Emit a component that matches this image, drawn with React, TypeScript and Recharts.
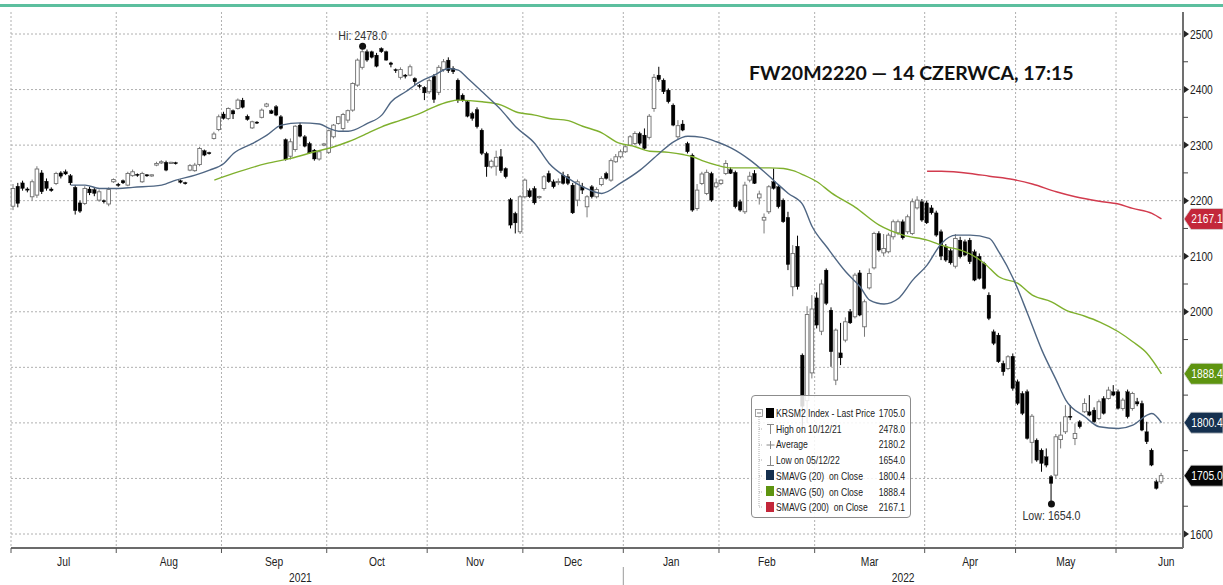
import React from 'react';
import { ComposedChart, Bar, Line, XAxis, YAxis, CartesianGrid, ReferenceDot } from 'recharts';

// [open, high, low, close] per trading day
type Ohlc = [number, number, number, number];

const JUL_21: Ohlc[] = [
  [2190, 2230, 2183, 2222], [2226, 2232, 2188, 2195], [2232, 2236, 2218, 2222], [2221, 2224, 2215, 2219],
  [2207, 2238, 2200, 2234], [2210, 2262, 2205, 2257], [2250, 2255, 2212, 2216], [2235, 2240, 2218, 2222],
  [2221, 2224, 2216, 2218], [2231, 2252, 2228, 2249], [2250, 2253, 2240, 2244], [2252, 2256, 2246, 2248],
  [2245, 2248, 2228, 2232], [2224, 2228, 2175, 2182], [2196, 2200, 2178, 2181], [2195, 2226, 2192, 2222],
  [2221, 2225, 2210, 2214], [2220, 2224, 2208, 2213], [2201, 2220, 2198, 2216], [2200, 2202, 2195, 2198],
  [2194, 2224, 2190, 2220], [2234, 2240, 2232, 2238],
];
const AUG_21: Ohlc[] = [
  [2229, 2232, 2225, 2228], [2236, 2238, 2230, 2232], [2228, 2252, 2226, 2249], [2245, 2256, 2243, 2252],
  [2247, 2249, 2243, 2246], [2234, 2252, 2232, 2249], [2246, 2248, 2243, 2245], [2245, 2247, 2243, 2246],
  [2264, 2270, 2262, 2267], [2268, 2273, 2266, 2270], [2269, 2272, 2253, 2255], [2268, 2270, 2266, 2268],
  [2268, 2270, 2265, 2267], [2236, 2238, 2231, 2233], [2232, 2234, 2229, 2231], [2255, 2266, 2253, 2263],
  [2254, 2268, 2252, 2264], [2265, 2297, 2262, 2294], [2290, 2292, 2280, 2282], [2286, 2288, 2283, 2285],
  [2312, 2324, 2310, 2320], [2328, 2355, 2325, 2351],
];
const SEP_21: Ohlc[] = [
  [2356, 2360, 2346, 2348], [2348, 2368, 2345, 2366], [2362, 2364, 2347, 2356], [2366, 2384, 2364, 2381],
  [2381, 2385, 2366, 2368], [2352, 2355, 2344, 2346], [2331, 2344, 2329, 2342], [2341, 2343, 2338, 2340],
  [2350, 2366, 2348, 2363], [2370, 2376, 2368, 2374], [2362, 2364, 2356, 2357], [2369, 2372, 2352, 2354],
  [2351, 2354, 2328, 2330], [2310, 2312, 2272, 2274], [2280, 2312, 2274, 2306], [2292, 2336, 2288, 2334],
  [2336, 2340, 2314, 2316], [2315, 2318, 2296, 2298], [2303, 2306, 2284, 2286], [2291, 2293, 2272, 2275],
  [2275, 2290, 2272, 2288], [2300, 2304, 2298, 2302],
];
const OCT_21: Ohlc[] = [
  [2287, 2328, 2284, 2326], [2315, 2338, 2312, 2336], [2339, 2352, 2337, 2351], [2330, 2358, 2326, 2355],
  [2345, 2364, 2340, 2362], [2363, 2413, 2360, 2411], [2408, 2456, 2405, 2453], [2440, 2478, 2436, 2468],
  [2468, 2472, 2450, 2453], [2468, 2470, 2456, 2458], [2462, 2466, 2440, 2442], [2474, 2476, 2466, 2468],
  [2468, 2470, 2452, 2453], [2448, 2450, 2440, 2445], [2436, 2438, 2430, 2434], [2422, 2440, 2418, 2436],
  [2426, 2428, 2420, 2424], [2426, 2445, 2424, 2441], [2420, 2422, 2408, 2414], [2407, 2410, 2402, 2406],
  [2404, 2406, 2381, 2394],
];
const NOV_21: Ohlc[] = [
  [2396, 2420, 2392, 2416], [2424, 2428, 2376, 2382], [2395, 2444, 2390, 2440], [2436, 2455, 2432, 2450],
  [2453, 2458, 2430, 2434], [2438, 2442, 2428, 2432], [2417, 2420, 2376, 2381], [2390, 2393, 2378, 2381],
  [2378, 2380, 2350, 2352], [2357, 2360, 2344, 2348], [2364, 2368, 2330, 2333], [2327, 2330, 2282, 2285],
  [2285, 2288, 2243, 2261], [2261, 2274, 2258, 2271], [2262, 2290, 2245, 2278], [2279, 2293, 2250, 2254],
  [2258, 2260, 2240, 2243], [2202, 2205, 2150, 2156], [2177, 2180, 2141, 2160], [2144, 2210, 2140, 2207],
];
const DEC_21: Ohlc[] = [
  [2207, 2240, 2204, 2237], [2218, 2222, 2205, 2207], [2222, 2226, 2193, 2196], [2206, 2209, 2203, 2207],
  [2222, 2246, 2218, 2243], [2249, 2254, 2232, 2234], [2234, 2238, 2222, 2225], [2233, 2240, 2228, 2234],
  [2246, 2252, 2229, 2231], [2243, 2248, 2228, 2231], [2228, 2232, 2176, 2178], [2201, 2238, 2190, 2234],
  [2225, 2232, 2212, 2219], [2189, 2210, 2170, 2207], [2225, 2228, 2204, 2207], [2207, 2224, 2204, 2220],
  [2229, 2244, 2226, 2240], [2249, 2252, 2238, 2240], [2237, 2276, 2234, 2272], [2270, 2284, 2268, 2279],
  [2279, 2292, 2276, 2288],
];
const JAN_22: Ohlc[] = [
  [2288, 2300, 2286, 2297], [2300, 2318, 2298, 2315], [2303, 2325, 2300, 2321], [2321, 2324, 2300, 2303],
  [2318, 2330, 2292, 2294], [2314, 2356, 2310, 2352], [2366, 2428, 2360, 2422], [2426, 2441, 2414, 2418],
  [2417, 2420, 2392, 2396], [2399, 2402, 2375, 2378], [2372, 2375, 2334, 2336], [2315, 2345, 2309, 2335],
  [2338, 2345, 2325, 2327], [2303, 2306, 2285, 2288], [2282, 2285, 2180, 2183], [2186, 2230, 2182, 2219],
  [2231, 2252, 2228, 2248], [2213, 2256, 2210, 2251], [2249, 2252, 2198, 2201], [2225, 2240, 2222, 2232],
];
const FEB_22: Ohlc[] = [
  [2231, 2238, 2228, 2237], [2249, 2273, 2246, 2267], [2256, 2260, 2248, 2249], [2251, 2254, 2186, 2189],
  [2198, 2202, 2180, 2183], [2180, 2234, 2176, 2228], [2237, 2252, 2233, 2244], [2249, 2255, 2230, 2231],
  [2205, 2218, 2193, 2212], [2165, 2177, 2141, 2170], [2180, 2228, 2176, 2225], [2234, 2258, 2220, 2222],
  [2225, 2228, 2186, 2189], [2201, 2204, 2160, 2162], [2170, 2180, 2075, 2085], [2045, 2120, 2028, 2105],
  [2118, 2137, 2040, 2045], [1922, 1925, 1790, 1830], [1840, 2010, 1800, 1995], [1890, 2030, 1880, 2005],
];
const MAR_22: Ohlc[] = [
  [2025, 2035, 1970, 1976], [1965, 2058, 1958, 2050], [2075, 2078, 2012, 2015], [2003, 2008, 1901, 1928],
  [1877, 1970, 1868, 1967], [1926, 1980, 1904, 1917], [1949, 1990, 1945, 1982], [2000, 2005, 1978, 1980],
  [1991, 2070, 1988, 2066], [2070, 2075, 1992, 1994], [1973, 2022, 1955, 2018], [2043, 2078, 2040, 2069],
  [2079, 2144, 2076, 2141], [2141, 2145, 2108, 2111], [2106, 2140, 2100, 2114], [2108, 2142, 2105, 2138],
  [2135, 2166, 2130, 2162], [2142, 2166, 2138, 2162], [2162, 2166, 2130, 2133], [2144, 2175, 2140, 2171],
  [2141, 2204, 2138, 2198], [2187, 2208, 2184, 2201], [2198, 2203, 2162, 2165],
];
const APR_22: Ohlc[] = [
  [2196, 2200, 2158, 2160], [2187, 2192, 2175, 2178], [2178, 2182, 2135, 2138], [2144, 2148, 2093, 2100],
  [2117, 2122, 2090, 2093], [2110, 2114, 2085, 2088], [2082, 2140, 2078, 2132], [2129, 2135, 2096, 2099],
  [2126, 2130, 2100, 2102], [2129, 2133, 2086, 2090], [2108, 2112, 2055, 2057], [2100, 2105, 2058, 2060],
  [2087, 2090, 2040, 2042], [2030, 2035, 1985, 1988], [1964, 1968, 1940, 1943], [1958, 1962, 1908, 1910],
  [1907, 1912, 1885, 1892], [1898, 1922, 1895, 1919], [1920, 1925, 1858, 1862],
];
const MAY_22: Ohlc[] = [
  [1874, 1878, 1832, 1835], [1853, 1857, 1814, 1817], [1856, 1860, 1770, 1772], [1765, 1816, 1727, 1812],
  [1769, 1772, 1730, 1733], [1751, 1754, 1712, 1727], [1739, 1754, 1720, 1724], [1703, 1706, 1654, 1691],
  [1706, 1780, 1700, 1775], [1770, 1802, 1754, 1778], [1784, 1832, 1780, 1811], [1812, 1832, 1805, 1810],
  [1772, 1799, 1760, 1781], [1802, 1805, 1790, 1793], [1820, 1844, 1818, 1835], [1820, 1850, 1812, 1814],
  [1823, 1828, 1800, 1802], [1808, 1842, 1805, 1838], [1844, 1848, 1815, 1817], [1844, 1865, 1842, 1859],
  [1856, 1868, 1848, 1850],
];
const JUN_22: Ohlc[] = [
  [1856, 1860, 1824, 1826], [1826, 1845, 1822, 1841], [1856, 1860, 1808, 1811], [1826, 1856, 1822, 1853],
  [1838, 1845, 1830, 1834], [1835, 1840, 1785, 1787], [1784, 1802, 1762, 1766], [1751, 1754, 1722, 1724],
  [1694, 1698, 1680, 1682], [1694, 1710, 1690, 1705],
];

// moving averages: [trading-day index, value]
const SMA20: [number, number][] = [
  [12, 2228], [15, 2228], [18, 2222], [22, 2222], [25, 2224], [31, 2228], [34, 2237], [38, 2246], [41, 2255],
  [44, 2267], [46, 2285], [50, 2303], [53, 2318], [56, 2336], [60, 2340], [64, 2338], [66, 2330], [68, 2325],
  [70, 2325], [74, 2339], [77, 2354], [79, 2378], [82, 2396], [85, 2414], [88, 2426], [91, 2438], [93, 2435],
  [95, 2420], [98, 2396], [102, 2363], [105, 2333], [109, 2303], [112, 2267], [116, 2240], [119, 2225],
  [123, 2213], [127, 2232], [131, 2255], [135, 2285], [138, 2306], [141, 2316], [144, 2314], [147, 2306],
  [150, 2295], [154, 2273], [158, 2244], [160, 2228], [162, 2213], [165, 2193], [167, 2153], [170, 2117],
  [174, 2072], [177, 2045], [179, 2021], [182, 2014], [185, 2024], [188, 2057], [191, 2084], [194, 2123],
  [197, 2138], [200, 2138], [204, 2132], [206, 2108], [209, 2060], [212, 1997], [215, 1931], [218, 1877],
  [220, 1841], [224, 1811], [227, 1793], [231, 1790], [234, 1796], [237, 1814], [238, 1817], [240, 1800.4],
];
const SMA50: [number, number][] = [
  [42, 2237], [46, 2249], [53, 2267], [58, 2276], [63, 2288], [67, 2297], [70, 2306], [74, 2321], [77, 2333],
  [81, 2345], [85, 2357], [88, 2369], [91, 2378], [93, 2381], [98, 2378], [102, 2372], [105, 2360], [109, 2354],
  [112, 2348], [116, 2344], [119, 2334], [123, 2322], [126, 2306], [130, 2297], [133, 2289], [137, 2287],
  [140, 2283], [142, 2279], [144, 2272], [147, 2264], [150, 2259], [154, 2259], [158, 2259], [161, 2258],
  [163, 2254], [165, 2247], [168, 2234], [171, 2214], [176, 2188], [181, 2156], [186, 2138], [191, 2129],
  [195, 2117], [198, 2111], [200, 2104], [203, 2087], [206, 2063], [210, 2051], [213, 2030], [217, 2018],
  [220, 2003], [224, 1992], [227, 1982], [231, 1964], [234, 1946], [237, 1925], [240, 1888.4],
];
const SMA200: [number, number][] = [
  [191, 2253], [194, 2253], [200, 2249], [204, 2244], [209, 2238], [213, 2230], [218, 2216], [222, 2207],
  [227, 2199], [231, 2194], [234, 2186], [238, 2177], [240, 2167.1],
];

const MONTH_NAMES = ['Jul', 'Aug', 'Sep', 'Oct', 'Nov', 'Dec', 'Jan', 'Feb', 'Mar', 'Apr', 'May', 'Jun'];
const MONTH_STARTS = [-0.5, 21.5, 43.5, 65.5, 86.5, 106.5, 127.5, 147.5, 167.5, 190.5, 209.5, 230.5];
const MONTH_MIDS = [10.5, 32.5, 54.5, 76, 96.5, 117, 137.5, 157.5, 179, 200, 220, 241];
const YEAR_NAMES = ['2021', '2022'];
const YEAR_MIDS = [60, 186];
const YEAR_SPLIT = 127.5;

const PRICE_TICKS = [1600, 1700, 1800, 1900, 2000, 2100, 2200, 2300, 2400, 2500];
const MINOR_TICKS = [1650, 1750, 1850, 1950, 2050, 2150, 2250, 2350, 2450];
const FLAG_VALUES = [2167.1, 1888.4, 1800.4, 1705.0];
const FLAG_COLORS = ['#c3273a', '#5e9410', '#15304f', '#050505'];

const HIGH = { i: 73, v: 2478.0 };
const LOW = { i: 217, v: 1654.0 };

const LEGEND_LABELS = ['KRSM2 Index - Last Price', 'High on 10/12/21', 'Average', 'Low on 05/12/22',
  'SMAVG (20)  on Close', 'SMAVG (50)  on Close', 'SMAVG (200)  on Close'];
const LEGEND_VALUES = ['1705.0', '2478.0', '2180.2', '1654.0', '1800.4', '1888.4', '2167.1'];

const SLOTS = 245;
const CANDLES: Ohlc[] = [...JUL_21, ...AUG_21, ...SEP_21, ...OCT_21, ...NOV_21, ...DEC_21,
  ...JAN_22, ...FEB_22, ...MAR_22, ...APR_22, ...MAY_22, ...JUN_22];

const m20 = new Map(SMA20);
const m50 = new Map(SMA50);
const m200 = new Map(SMA200);
const DATA = Array.from({ length: SLOTS }, (_, i) => {
  const k = CANDLES[i];
  return {
    i,
    o: k ? k[0] : null, h: k ? k[1] : null, l: k ? k[2] : null, c: k ? k[3] : null,
    s20: m20.get(i) ?? null, s50: m50.get(i) ?? null, s200: m200.get(i) ?? null,
  };
});

const BOTTOM_TICKS = [...MONTH_STARTS, ...MONTH_MIDS, ...YEAR_MIDS].sort((a, b) => a - b);

const SANS = "'Liberation Sans', Arial, sans-serif";
const X_DOMAIN = [-0.5, SLOTS - 0.5];
const Y_DOMAIN = [1574.8, 2539.6];

// condensed text: Liberation Sans squeezed horizontally, like the terminal's narrow font
const NText = ({ x, y, anchor = 'start', size = 12.5, fill = '#222', dy, children }: any) => (
  <text transform={`translate(${x},${y}) scale(0.82,1)`} x={0} y={0} dy={dy} textAnchor={anchor}
    fontSize={size} fontFamily={SANS} fill={fill}>
    {children}
  </text>
);

const Candle = (props: any) => {
  const { x, y, width, height, payload } = props;
  if (payload == null || payload.h == null || height == null) return null;
  const top = Math.min(y, y + height);
  const bot = Math.max(y, y + height);
  const py = (v: number) => top + ((payload.h - v) / (payload.h - payload.l)) * (bot - top);
  const cx = x + width / 2;
  const up = payload.c >= payload.o;
  let bTop = py(Math.max(payload.o, payload.c));
  let bBot = py(Math.min(payload.o, payload.c));
  if (bBot - bTop < 1.2) {
    const m = (bTop + bBot) / 2;
    bTop = m - 0.6;
    bBot = m + 0.6;
  }
  const bw = 3.6;
  return (
    <g>
      <line x1={cx} x2={cx} y1={top} y2={bot} stroke={up ? '#7a7a7a' : '#000'} strokeWidth={1} />
      <rect x={cx - bw / 2} y={bTop} width={bw} height={bBot - bTop}
        fill={up ? '#fff' : '#000'} stroke={up ? '#6e6e6e' : '#000'} strokeWidth={up ? 0.9 : 0.3} />
    </g>
  );
};

const PriceTick = (props: any) => {
  const { x, y, payload } = props;
  const v = payload.value;
  const fi = FLAG_VALUES.indexOf(v);
  if (fi >= 0) {
    return (
      <g>
        <path d={`M${x + 1},${y} L${x + 8},${y - 10.5} L${x + 40},${y - 10.5} L${x + 40},${y + 10.5} L${x + 8},${y + 10.5} Z`}
          fill={FLAG_COLORS[fi]} stroke="#d8d8d8" strokeWidth={0.8} />
        <NText x={x + 24} y={y} dy="0.36em" anchor="middle" size={12.5} fill="#fff">{v.toFixed(1)}</NText>
      </g>
    );
  }
  if (v % 100 === 0) {
    // labels hidden behind a flag are not drawn
    if (FLAG_VALUES.some((f) => Math.abs(f - v) < 20)) return <g />;
    return (
      <g>
        <path d={`M${x + 1},${y - 3.5} L${x + 6},${y} L${x + 1},${y + 3.5} Z`} fill="#222" />
        <NText x={x + 7} y={y} dy="0.36em" size={12.5}>{v}</NText>
      </g>
    );
  }
  return <line x1={x} x2={x + 5} y1={y} y2={y} stroke="#444" strokeWidth={1} />;
};

const BottomTick = (props: any) => {
  const { x, y, payload } = props;
  const v = payload.value;
  if (MONTH_STARTS.includes(v)) {
    return (
      <g>
        <line x1={x} x2={x} y1={y} y2={y + 5} stroke="#555" strokeWidth={1} />
        {v === YEAR_SPLIT && <line x1={x} x2={x} y1={y + 19} y2={y + 37} stroke="#9a9a9a" strokeWidth={1} />}
      </g>
    );
  }
  const mi = MONTH_MIDS.indexOf(v);
  if (mi >= 0) return <NText x={x} y={y + 17.5} anchor="middle" size={12.5}>{MONTH_NAMES[mi]}</NText>;
  const yi = YEAR_MIDS.indexOf(v);
  return <NText x={x} y={y + 34} anchor="middle" size={12.5}>{YEAR_NAMES[yi]}</NText>;
};

const DotLabel = (props: any) => {
  const vb = props.viewBox;
  if (!vb) return null;
  const cx = vb.x + vb.width / 2;
  const y = props.where === 'top' ? vb.y - 3 : vb.y + vb.height + 12.5;
  return <NText x={cx} y={y} anchor="middle" size={13} fill="#333">{props.text}</NText>;
};

const LegendIcon = ({ k }: { k: number }) => {
  const sq = ['#000', '', '', '', '#15304f', '#5e9410', '#c3273a'][k];
  if (sq) return <div style={{ width: 8, height: 10, background: sq }} />;
  return (
    <svg width={9} height={12} style={{ display: 'block' }}>
      {k === 1 && <path d="M1,1.5 H8 M4.5,1.5 V11" stroke="#888" strokeWidth={1} />}
      {k === 2 && <path d="M0.5,6 H8.5 M4.5,2 V10" stroke="#888" strokeWidth={1} />}
      {k === 3 && <path d="M1,10.5 H8 M4.5,1 V10.5" stroke="#888" strokeWidth={1} />}
    </svg>
  );
};

const LegendBox = () => (
  <div style={{
    position: 'absolute', left: 751, top: 395, width: 160, height: 123, boxSizing: 'border-box',
    border: '1px solid #8c8c8c', borderRadius: 4, background: 'rgba(255,255,255,0.85)',
    fontFamily: SANS, fontSize: 10.5, color: '#222',
  }}>
    <svg style={{ position: 'absolute', left: 0, top: 0 }} width={20} height={120}>
      <rect x={3.5} y={13.5} width={7} height={7} fill="#fff" stroke="#888" strokeWidth={0.8} />
      <path d="M5,17 H9" stroke="#666" strokeWidth={0.8} />
      <path d="M7,21 V111 M7,33 H10 M7,49 H10 M7,64 H10 M7,80 H10 M7,96 H10 M7,111 H10"
        stroke="#999" strokeWidth={0.8} strokeDasharray="1 1" />
    </svg>
    {LEGEND_LABELS.map((lab, k) => (
      <div key={k} style={{ position: 'absolute', left: 0, right: 0, top: 9 + k * 15.7, height: 15.7 }}>
        <div style={{ position: 'absolute', left: 13, top: 2.5, width: 10, display: 'flex', justifyContent: 'center' }}>
          <LegendIcon k={k} />
        </div>
        <span style={{
          position: 'absolute', left: 24, top: 1, lineHeight: '14px', whiteSpace: 'pre',
          transform: 'scaleX(0.82)', transformOrigin: 'left center',
        }}>{lab}</span>
        <span style={{
          position: 'absolute', right: 5, top: 1, lineHeight: '14px',
          transform: 'scaleX(0.82)', transformOrigin: 'right center',
        }}>{LEGEND_VALUES[k]}</span>
      </div>
    ))}
  </div>
);

export default function App() {
  return (
    <div style={{ position: 'absolute', left: 0, top: 0, width: 1223, height: 585, background: '#fff', overflow: 'hidden' }}>
      <div style={{ position: 'absolute', left: 0, top: 4, width: 1223, height: 2.5, background: '#5cbf9e' }} />
      <ComposedChart width={1223} height={585} data={DATA} margin={{ top: 12, right: 0, bottom: 0, left: 11 }}>
        <CartesianGrid xAxisId="num" yAxisId="p" horizontalValues={PRICE_TICKS} verticalValues={MONTH_STARTS}
          stroke="#b0b0b0" strokeDasharray="2 2" />
        <XAxis xAxisId="num" dataKey="i" type="number" domain={X_DOMAIN} allowDataOverflow ticks={BOTTOM_TICKS}
          interval={0} tick={<BottomTick />} tickSize={0} tickMargin={0} tickLine={false} height={37}
          axisLine={{ stroke: '#6b6b6b', strokeWidth: 2 }} />
        <XAxis xAxisId="cat" dataKey="i" type="category" scale="band" hide height={0} />
        <YAxis yAxisId="p" orientation="right" width={40} domain={Y_DOMAIN} allowDataOverflow
          ticks={[...MINOR_TICKS, ...PRICE_TICKS, ...FLAG_VALUES]} interval={0} tick={<PriceTick />}
          tickSize={0} tickMargin={0} tickLine={false} axisLine={{ stroke: '#707070', strokeWidth: 2 }} />
        <Bar xAxisId="cat" yAxisId="p" dataKey={(d: any) => (d.h == null ? null : [d.l, d.h])}
          barSize={4} shape={<Candle />} isAnimationActive={false} />
        <Line xAxisId="num" yAxisId="p" dataKey="s50" type="monotone" stroke="#7fb02e" strokeWidth={1.4}
          dot={false} connectNulls isAnimationActive={false} />
        <Line xAxisId="num" yAxisId="p" dataKey="s20" type="monotone" stroke="#4f6683" strokeWidth={1.4}
          dot={false} connectNulls isAnimationActive={false} />
        <Line xAxisId="num" yAxisId="p" dataKey="s200" type="monotone" stroke="#d23b4e" strokeWidth={1.4}
          dot={false} connectNulls isAnimationActive={false} />
        <ReferenceDot xAxisId="num" yAxisId="p" x={HIGH.i} y={HIGH.v} r={3.5} fill="#111" stroke="none"
          label={<DotLabel where="top" text={`Hi: ${HIGH.v.toFixed(1)}`} />} />
        <ReferenceDot xAxisId="num" yAxisId="p" x={LOW.i} y={LOW.v} r={3.5} fill="#111" stroke="none"
          label={<DotLabel where="bottom" text={`Low: ${LOW.v.toFixed(1)}`} />} />
      </ComposedChart>
      <div style={{
        position: 'absolute', left: 749, top: 63, fontFamily: 'Lato, sans-serif', fontWeight: 700,
        fontSize: 19.5, lineHeight: 1, color: '#111', whiteSpace: 'nowrap',
      }}>
        FW20M2220 — 14 CZERWCA, 17:15
      </div>
      <LegendBox />
    </div>
  );
}
